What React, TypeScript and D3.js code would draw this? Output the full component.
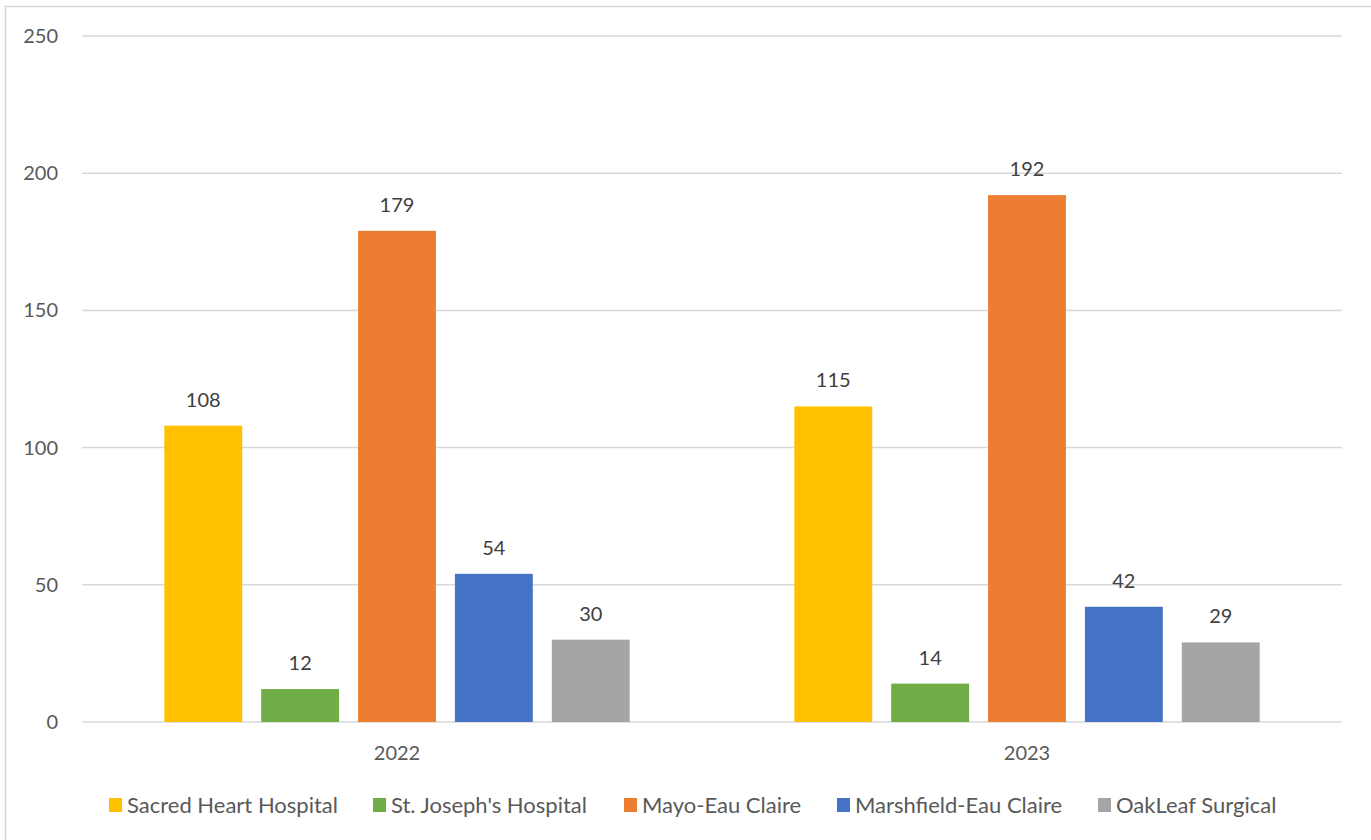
import React from "react";
import * as d3 from "d3";

const years = ["2022", "2023"];
const hospitals = [
  "Sacred Heart Hospital",
  "St. Joseph's Hospital",
  "Mayo-Eau Claire",
  "Marshfield-Eau Claire",
  "OakLeaf Surgical",
];
const colors = ["#FFC000", "#70AD47", "#ED7D31", "#4472C4", "#A5A5A5"];
const values2022 = [108, 12, 179, 54, 30];
const values2023 = [115, 14, 192, 42, 29];
const yTicks = [0, 50, 100, 150, 200, 250];
const titleText = "Surgeries Performed at Eau Claire Hospitals by Year and Type of Hospital Stay";

const W = 1371;
const H = 840;
const FONT = "Lato, 'Open Sans', sans-serif";

export default function App() {
  const valuesByYear = [values2022, values2023];
  const x0 = d3.scaleBand<string>().domain(years).range([82, 1342]).paddingInner(0).paddingOuter(0);
  const x1 = d3
    .scaleBand<string>()
    .domain(hospitals)
    .range([0, x0.bandwidth()])
    .paddingInner(0.196)
    .paddingOuter(0.85);
  const y = d3.scaleLinear().domain([0, 250]).range([722, 36]);

  const legendX = [109, 373, 624, 837, 1098];

  return (
    <svg
      width={W}
      height={H}
      style={{ position: "absolute", left: 0, top: 0, background: "#fff" }}
      fontFamily={FONT}
    >
      <rect x={0} y={0} width={W} height={H} fill="#fff" />
      <text x={640} y={-5} textAnchor="middle" fontSize={24} fontWeight="bold" fill="#000">
        {titleText}
      </text>
      <rect x={5.5} y={6.5} width={W + 20} height={H + 20} fill="none" stroke="#d9d9d9" strokeWidth={1.5} />
      {yTicks.map((t) => (
        <g key={t}>
          <line x1={82} x2={1342} y1={y(t)} y2={y(t)} stroke="#d9d9d9" strokeWidth={1.5} />
          <text x={58} y={y(t)} dy="0.35em" textAnchor="end" fontSize={20} fill="#595959">
            {t}
          </text>
        </g>
      ))}
      {years.map((yr, yi) => (
        <g key={yr} transform={`translate(${x0(yr)},0)`}>
          {hospitals.map((h, hi) => {
            const v = valuesByYear[yi][hi];
            const bx = x1(h)!;
            return (
              <g key={h}>
                <rect x={bx} y={y(v)} width={x1.bandwidth()} height={y(0) - y(v)} fill={colors[hi]} />
                <text
                  x={bx + x1.bandwidth() / 2}
                  y={y(v) - 19}
                  textAnchor="middle"
                  fontSize={20}
                  fill="#404040"
                >
                  {v}
                </text>
              </g>
            );
          })}
          <text x={x0.bandwidth() / 2} y={760} textAnchor="middle" fontSize={20} fill="#595959">
            {yr}
          </text>
        </g>
      ))}
      {hospitals.map((h, i) => (
        <g key={h} transform={`translate(${legendX[i]},805)`}>
          <rect x={0} y={-7} width={13} height={14} fill={colors[i]} />
          <text x={18} y={0} dy="0.35em" fontSize={22} fill="#595959">
            {h}
          </text>
        </g>
      ))}
    </svg>
  );
}
